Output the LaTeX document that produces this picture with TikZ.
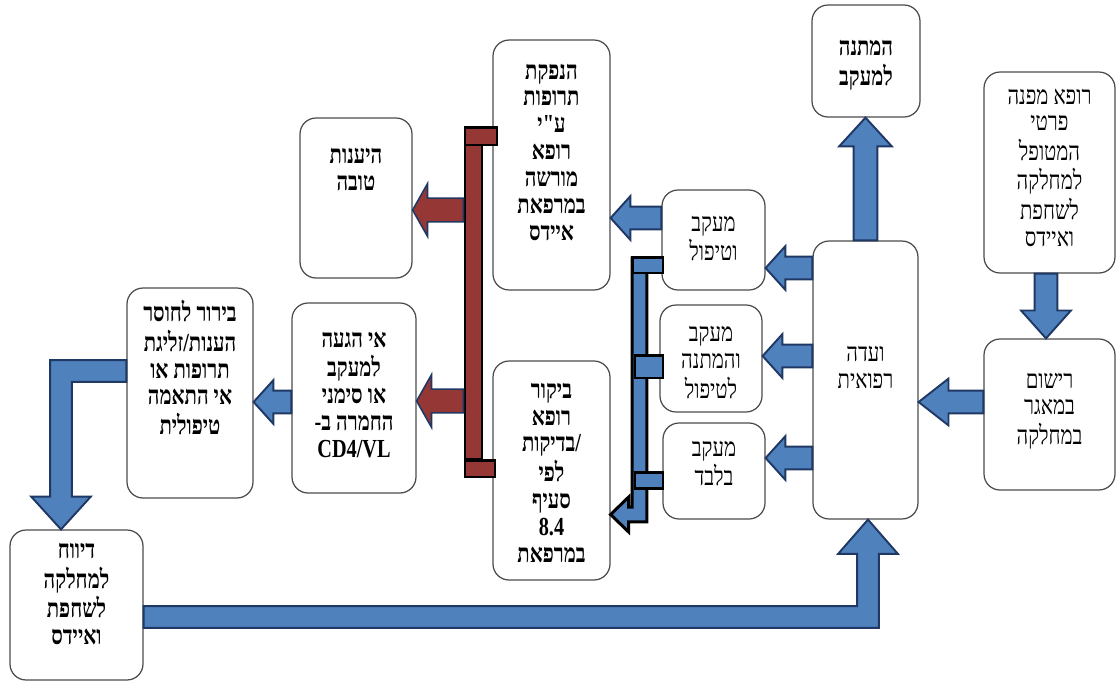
\documentclass[tikz,border=0pt]{standalone}
\usepackage{fontspec}
\usetikzlibrary{calc}
\newfontfamily\hebfont[Script=Hebrew, FakeStretch=0.78]{Liberation Serif}
\TeXXeTstate=1
\definecolor{ArrowBlue}{RGB}{79,129,189}
\definecolor{ArrowEdge}{RGB}{31,56,100}
\definecolor{BarRed}{RGB}{149,55,53}
\newcommand{\hb}[1]{\beginR #1\endR}
\newcommand{\boxlines}[2][0pt]{\raisebox{#1}[0pt][0pt]{\begin{tabular}{@{}c@{}}#2\end{tabular}}}
\tikzstyle{box} = [rectangle, rounded corners=0.32cm, draw=black!70, line width=0.7pt, fill=white, inner sep=0pt, font=\hebfont\fontsize{14.8}{15.3}\selectfont]
\tikzstyle{boxb} = [box, font=\hebfont\bfseries\fontsize{14.8}{15.3}\selectfont]
\tikzstyle{bluearrow} = [draw=ArrowEdge, fill=ArrowBlue, line width=1.1pt]
\tikzstyle{redarrow} = [draw=ArrowEdge, fill=BarRed, line width=0.9pt, fat shaft=6.8pt, fat head=15pt, fat tip=8.5pt]
\tikzstyle{redrail} = [rectangle, draw=black, fill=BarRed, line width=1.7pt, inner sep=0pt]
\tikzstyle{bluerail} = [rectangle, draw=black, fill=ArrowBlue, line width=1.7pt, inner sep=0pt]
\tikzset{
  fat shaft/.store in=\shaftw, fat shaft=6.5pt,
  fat head/.store in=\headw, fat head=12.5pt,
  fat tip/.store in=\headl, fat tip=11.3pt,
  fat/.style={to path={
    let \p1=(\tikztostart), \p2=(\tikztotarget),
        \n1={veclen(\x2-\x1,\y2-\y1)},
        \n2={(\x2-\x1)/\n1}, \n3={(\y2-\y1)/\n1}
    in ({\x1-\shaftw*\n3},{\y1+\shaftw*\n2})
    -- ({\x1+(\n1-\headl)*\n2-\shaftw*\n3},{\y1+(\n1-\headl)*\n3+\shaftw*\n2})
    -- ({\x1+(\n1-\headl)*\n2-\headw*\n3},{\y1+(\n1-\headl)*\n3+\headw*\n2})
    -- (\x2,\y2)
    -- ({\x1+(\n1-\headl)*\n2+\headw*\n3},{\y1+(\n1-\headl)*\n3-\headw*\n2})
    -- ({\x1+(\n1-\headl)*\n2+\shaftw*\n3},{\y1+(\n1-\headl)*\n3-\shaftw*\n2})
    -- ({\x1+\shaftw*\n3},{\y1-\shaftw*\n2}) -- cycle}},
  fathv/.style={to path={
    let \p1=(\tikztostart), \p2=(\tikztotarget),
        \n1={sign(\x2-\x1)}, \n2={sign(\y2-\y1)}
    in (\x1,{\y1-\n2*\shaftw})
    -- ({\x2+\n1*\shaftw},{\y1-\n2*\shaftw})
    -- ({\x2+\n1*\shaftw},{\y2-\n2*\headl})
    -- ({\x2+\n1*\headw},{\y2-\n2*\headl})
    -- (\x2,\y2)
    -- ({\x2-\n1*\headw},{\y2-\n2*\headl})
    -- ({\x2-\n1*\shaftw},{\y2-\n2*\headl})
    -- ({\x2-\n1*\shaftw},{\y1+\n2*\shaftw})
    -- (\x1,{\y1+\n2*\shaftw}) -- cycle}},
  fatvh/.style={to path={
    let \p1=(\tikztostart), \p2=(\tikztotarget),
        \n1={sign(\x2-\x1)}, \n2={sign(\y2-\y1)}
    in ({\x1-\n1*\shaftw},\y1)
    -- ({\x1-\n1*\shaftw},{\y2+\n2*\shaftw})
    -- ({\x2-\n1*\headl},{\y2+\n2*\shaftw})
    -- ({\x2-\n1*\headl},{\y2+\n2*\headw})
    -- (\x2,\y2)
    -- ({\x2-\n1*\headl},{\y2-\n2*\headw})
    -- ({\x2-\n1*\headl},{\y2-\n2*\shaftw})
    -- ({\x1+\n1*\shaftw},{\y2-\n2*\shaftw})
    -- ({\x1+\n1*\shaftw},\y1) -- cycle}}
}

\begin{document}
\begin{tikzpicture}[x=0.02cm, y=-0.02cm]
\useasboundingbox (0,0) rectangle (1117,684);

% Entrée
\node (refer) [box, minimum width=2.62cm, minimum height=4.02cm] at (1049.5,172.5) {\boxlines[-2pt]{\hb{רופא מפנה}\\ \hb{פרטי}\\ \hb{המטופל}\\ \hb{למחלקה}\\ \hb{לשחפת}\\ \hb{ואיידס}}};
\node (register) [box, minimum width=2.62cm, minimum height=3.02cm] at (1049.5,414.5) {\boxlines[-1.5pt]{\hb{רישום}\\ \hb{במאגר}\\ \hb{במחלקה}}};

% ועדה
\node (committee) [box, minimum width=2.1cm, minimum height=5.56cm] at (865.5,380) {\boxlines[2.5pt]{\hb{ועדה}\\ \hb{רפואית}}};
\node (wait) [boxb, minimum width=2.16cm, minimum height=2.24cm] at (866,61) {\boxlines[-6pt]{\hb{המתנה}\\ \hb{למעקב}}};

% מעקב
\node (followtreat) [box, minimum width=2.06cm, minimum height=2cm] at (713.5,240) {\boxlines[-3.8pt]{\hb{מעקב}\\ \hb{וטיפול}}};
\node (followwait) [box, minimum width=2.04cm, minimum height=2.14cm] at (711,358.5) {\boxlines[-7pt]{\hb{מעקב}\\ \hb{והמתנה}\\ \hb{לטיפול}}};
\node (followonly) [box, minimum width=2.04cm, minimum height=1.92cm] at (714,471) {\boxlines[-0.5pt]{\hb{מעקב}\\ \hb{בלבד}}};

% מרפאה
\node (dispense) [boxb, minimum width=2.34cm, minimum height=5cm] at (551.5,165) {\boxlines[2.5pt]{\hb{הנפקת}\\ \hb{תרופות}\\ \hb{ע"י}\\ \hb{רופא}\\ \hb{מורשה}\\ \hb{במרפאת}\\ \hb{איידס}}};
\node (visit) [boxb, minimum width=2.34cm, minimum height=4.38cm] at (551.5,470.5) {\boxlines[-6pt]{\hb{ביקור}\\ \hb{רופא}\\ \hb{/בדיקות}\\ \hb{לפי}\\ \hb{סעיף}\\ 8.4\\ \hb{במרפאת}}};

% תוצאות
\node (adherent) [boxb, minimum width=2.24cm, minimum height=3.2cm] at (356,198) {\boxlines[11.5pt]{\hb{היענות}\\ \hb{טובה}}};
\node (noshow) [boxb, minimum width=2.48cm, minimum height=3.8cm] at (354,398) {\boxlines[-3pt]{\hb{אי הגעה}\\ \hb{למעקב}\\ \hb{או סימני}\\ \hb{החמרה ב-}\\ CD4/VL}};
\node (inquiry) [boxb, minimum width=2.52cm, minimum height=4.2cm] at (190,393) {\boxlines[8.7pt]{\hb{בירור לחוסר}\\ \hb{הענות/זליגת}\\ \hb{תרופות או}\\ \hb{אי התאמה}\\ \hb{טיפולית}}};
\node (report) [boxb, minimum width=2.66cm, minimum height=3cm] at (76.5,605) {\boxlines[1.3pt]{\hb{דיווח}\\ \hb{למחלקה}\\ \hb{לשחפת}\\ \hb{ואיידס}}};

% Flèches bleues
\draw [bluearrow, fat shaft=6.8pt, fat head=15pt, fat tip=16.4pt] (committee.north) to[fat] (committee.north |- wait.south);
\draw [bluearrow, fat head=14.2pt, fat tip=15.9pt] (refer.south -| 1046,0) to[fat] (register.north -| 1046,0);
\draw [bluearrow, fat head=13.3pt, fat tip=17pt] (register.west |- 0,402) to[fat] (committee.east |- 0,402);
\draw [bluearrow] (committee.west |- 0,268) to[fat] (followtreat.east |- 0,268);
\draw [bluearrow] (committee.west |- 0,356) to[fat] (followwait.east |- 0,356);
\draw [bluearrow] (committee.west |- 0,458) to[fat] (followonly.east |- 0,458);
\draw [bluearrow] (followtreat.west |- 0,218) to[fat] (dispense.east |- 0,218);
\draw [bluearrow] (noshow.west |- 0,402) to[fat] (inquiry.east |- 0,402);
\draw [bluearrow, fat shaft=6.2pt, fat head=17pt, fat tip=18.7pt] (inquiry.west |- 0,371) to[fathv] (report.north -| 61,0);
\draw [bluearrow, fat shaft=6.2pt, fat head=17pt, fat tip=19.5pt] (report.east |- 0,617) to[fathv] (committee.south -| 868,0);

% Barre rouge
\node (redbar) [redrail, minimum width=0.34cm, minimum height=6.34cm] at (473.5,301.5) {};
\node (redtop) [redrail, minimum width=0.64cm, minimum height=0.36cm] at (481,136) {};
\node (redbottom) [redrail, minimum width=0.6cm, minimum height=0.34cm] at (480,468.5) {};
\draw [redarrow] (redbar.west |- 0,210) to[fat] (adherent.east |- 0,210);
\draw [redarrow] (redbar.west |- 0,401) to[fat] (noshow.east |- 0,401);

% Barre bleue
\coordinate (bluestart) at (639.5,258);
\draw [bluerail, fat shaft=4.25pt, fat head=9.9pt, fat tip=10.2pt] (bluestart) to[fatvh] (visit.east |- 0,514.5);
\node (bluetop) [bluerail, minimum width=0.62cm, minimum height=0.32cm] at (647.5,265) {};
\node (bluemid) [bluerail, minimum width=0.56cm, minimum height=0.46cm] at (649,366.5) {};
\node (bluebottom) [bluerail, minimum width=0.56cm, minimum height=0.32cm] at (649,480) {};

\end{tikzpicture}
\end{document}
